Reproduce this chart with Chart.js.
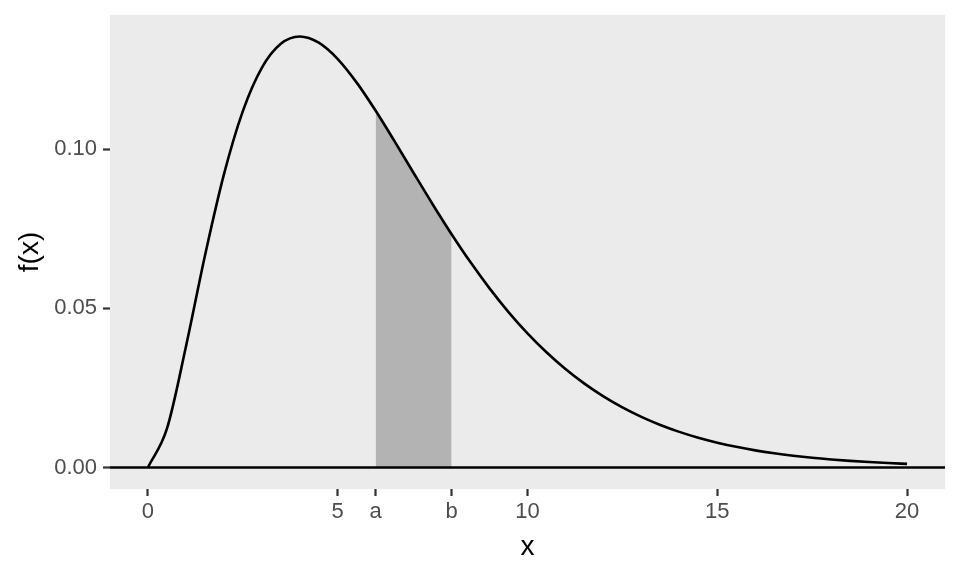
<!DOCTYPE html>
<html>
<head>
<meta charset="utf-8">
<script src="https://cdn.jsdelivr.net/npm/chart.js@4/dist/chart.umd.min.js"></script>
<style>
  html, body { margin: 0; padding: 0; background: #ffffff; }
  #wrap { width: 960px; height: 576px; }
</style>
</head>
<body>
<div id="wrap"><canvas id="densityChart"></canvas></div>
<script>
const xValues = [0, 0.5, 1, 1.5, 2, 2.5, 3, 3.5, 4, 4.5, 5, 5.5, 6, 6.5, 7, 7.5, 8, 8.5, 9, 9.5,
                 10, 10.5, 11, 11.5, 12, 12.5, 13, 13.5, 14, 14.5, 15, 15.5, 16, 16.5, 17, 17.5, 18, 18.5, 19, 19.5, 20];
const densityValues = [0, 0.01217, 0.03791, 0.06643, 0.09197, 0.11191, 0.12552, 0.13304, 0.13534, 0.13339, 0.12826,
                       0.12086, 0.11202, 0.10239, 0.09248, 0.08268, 0.07326, 0.06441, 0.05624, 0.04880, 0.04211,
                       0.03616, 0.03091, 0.02631, 0.02231, 0.01885, 0.01588, 0.01334, 0.01117, 0.00933, 0.00778,
                       0.00647, 0.00537, 0.00445, 0.00368, 0.00303, 0.00250, 0.00206, 0.00169, 0.00139, 0.00113];

// gearceerd interval [a, b]
const shadeFrom = 6;
const shadeTo = 8;

// as-labels
const xTickValues = [0, 5, 6, 8, 10, 15, 20];
const xTickLabels = ['0', '5', 'a', 'b', '10', '15', '20'];
const yTickValues = [0, 0.05, 0.10];
const yTickLabels = ['0.00', '0.05', '0.10'];

const curvePoints = xValues.map((x, i) => ({ x: x, y: densityValues[i] }));
const shadePoints = curvePoints.filter(p => p.x >= shadeFrom && p.x <= shadeTo);

// grijze achtergrond van het paneel
const panelBackground = {
    id: 'panelBackground',
    beforeDraw(chart) {
        const { ctx, chartArea } = chart;
        ctx.save();
        ctx.fillStyle = '#EBEBEB';
        ctx.fillRect(chartArea.left, chartArea.top, chartArea.right - chartArea.left, chartArea.bottom - chartArea.top);
        ctx.restore();
    }
};

const tickFont = { family: 'Liberation Sans, Arial, sans-serif', size: 22 };
const titleFont = { family: 'Liberation Sans, Arial, sans-serif', size: 28 };

const ctx = document.getElementById('densityChart').getContext('2d');
const chart = new Chart(ctx, {
    type: 'line',
    data: {
        datasets: [
            {
                label: 'f(x)',
                data: curvePoints,
                borderColor: '#000000',
                borderWidth: 2.6,
                pointRadius: 0,
                cubicInterpolationMode: 'monotone',
                fill: false
            },
            {
                label: 'nul',
                data: [{ x: -1, y: 0 }, { x: 21, y: 0 }],
                borderColor: '#000000',
                borderWidth: 2.6,
                pointRadius: 0,
                fill: false
            },
            {
                label: 'P(a<X<b)',
                data: shadePoints,
                borderWidth: 0,
                borderColor: 'rgba(0,0,0,0)',
                backgroundColor: '#B3B3B3',
                pointRadius: 0,
                cubicInterpolationMode: 'monotone',
                fill: 'origin'
            }
        ]
    },
    options: {
        responsive: true,
        maintainAspectRatio: false,
        animation: false,
        layout: { padding: { top: 15, right: 15, left: 0, bottom: 0 } },
        plugins: {
            legend: { display: false },
            tooltip: { enabled: false }
        },
        scales: {
            x: {
                type: 'linear',
                min: -1,
                max: 21,
                afterBuildTicks: scale => { scale.ticks = xTickValues.map(v => ({ value: v })); },
                afterFit: scale => { scale.height = 87; scale.paddingLeft = 0; scale.paddingRight = 0; },
                ticks: {
                    autoSkip: false,
                    maxRotation: 0,
                    color: '#4D4D4D',
                    font: tickFont,
                    padding: 3,
                    callback: (value) => {
                        const i = xTickValues.indexOf(value);
                        return i >= 0 ? xTickLabels[i] : '';
                    }
                },
                grid: { drawOnChartArea: false, drawTicks: true, tickLength: 7, tickWidth: 2.2, color: '#333333' },
                border: { display: false },
                title: { display: true, text: 'x', color: '#000000', font: titleFont, padding: { top: 0, bottom: 12 } }
            },
            y: {
                type: 'linear',
                min: -0.00677,
                max: 0.1421,
                afterBuildTicks: scale => { scale.ticks = yTickValues.map(v => ({ value: v })); },
                afterFit: scale => { scale.width = 110; scale.paddingTop = 0; scale.paddingBottom = 0; },
                ticks: {
                    color: '#4D4D4D',
                    font: tickFont,
                    padding: 6,
                    callback: (value) => {
                        const i = yTickValues.indexOf(value);
                        return i >= 0 ? yTickLabels[i] : '';
                    }
                },
                grid: { drawOnChartArea: false, drawTicks: true, tickLength: 7, tickWidth: 2.2, color: '#333333' },
                border: { display: false },
                title: { display: true, text: 'f(x)', color: '#000000', font: titleFont, padding: { top: 13, bottom: 0 } }
            }
        }
    },
    plugins: [panelBackground]
});
</script>
</body>
</html>
